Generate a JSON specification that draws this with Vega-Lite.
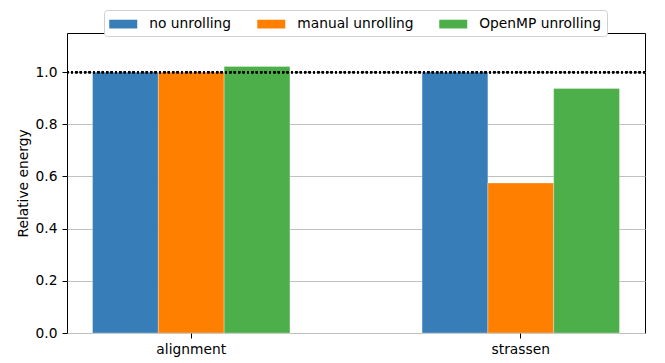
{
  "$schema": "https://vega.github.io/schema/vega-lite/v6.json",
  "width": 578,
  "height": 300,
  "autosize": {"type": "none"},
  "padding": {"left": 67, "top": 33, "right": 20, "bottom": 30},
  "background": "white",
  "config": {
    "font": "DejaVu Sans",
    "view": {"stroke": "black", "strokeWidth": 1},
    "axis": {"labelFont": "DejaVu Sans", "titleFont": "DejaVu Sans", "labelColor": "black", "titleColor": "black", "domainColor": "black", "tickColor": "black", "labelFontSize": 13.8, "titleFontSize": 13.8, "titleFontWeight": "normal"}
  },
  "data": {
    "values": [
      {"benchmark": "alignment", "variant": "no unrolling", "energy": 1.0},
      {"benchmark": "alignment", "variant": "manual unrolling", "energy": 1.0},
      {"benchmark": "alignment", "variant": "OpenMP unrolling", "energy": 1.022},
      {"benchmark": "strassen", "variant": "no unrolling", "energy": 1.0},
      {"benchmark": "strassen", "variant": "manual unrolling", "energy": 0.575},
      {"benchmark": "strassen", "variant": "OpenMP unrolling", "energy": 0.937}
    ]
  },
  "layer": [
    {
      "mark": {"type": "bar", "stroke": "white", "strokeWidth": 0.3},
      "encoding": {
        "x": {
          "field": "benchmark", "type": "nominal",
          "scale": {"paddingInner": 0.401, "paddingOuter": 0.0775},
          "axis": {"title": null, "labelAngle": 0, "tickSize": 5, "labelPadding": 4, "grid": false, "domain": false}
        },
        "xOffset": {
          "field": "variant", "type": "nominal",
          "sort": ["no unrolling", "manual unrolling", "OpenMP unrolling"],
          "scale": {"paddingInner": 0, "paddingOuter": 0}
        },
        "y": {
          "field": "energy", "type": "quantitative",
          "scale": {"domain": [0, 1.15], "nice": false, "zero": true},
          "axis": {"title": "Relative energy", "values": [0, 0.2, 0.4, 0.6, 0.8, 1.0], "format": ".1f", "grid": true, "gridColor": "#c0c0c0", "gridWidth": 1, "tickSize": 5, "labelPadding": 5, "titlePadding": 5, "domain": false}
        },
        "color": {
          "field": "variant", "type": "nominal",
          "sort": ["no unrolling", "manual unrolling", "OpenMP unrolling"],
          "scale": {"domain": ["no unrolling", "manual unrolling", "OpenMP unrolling"], "range": ["#377eb8", "#ff7f00", "#4daf4a"]},
          "legend": {
            "title": null,
            "orient": "none",
            "direction": "horizontal",
            "legendX": 37,
            "legendY": -23,
            "fillColor": "white",
            "strokeColor": "#d0d0d0",
            "cornerRadius": 3,
            "padding": 5,
            "symbolType": "M-1.6,-0.5H1.6V0.5H-1.6Z",
            "symbolSize": 306,
            "symbolOffset": 5.25,
            "symbolStrokeWidth": 0,
            "symbolOpacity": 1,
            "labelFontSize": 13.8,
            "labelColor": "black",
            "labelFont": "DejaVu Sans",
            "labelOffset": 17,
            "columnPadding": 25
          }
        }
      }
    },
    {
      "mark": {"type": "rule", "color": "black", "strokeWidth": 2, "strokeDash": [2, 2.4]},
      "encoding": {"y": {"datum": 1}}
    }
  ]
}
